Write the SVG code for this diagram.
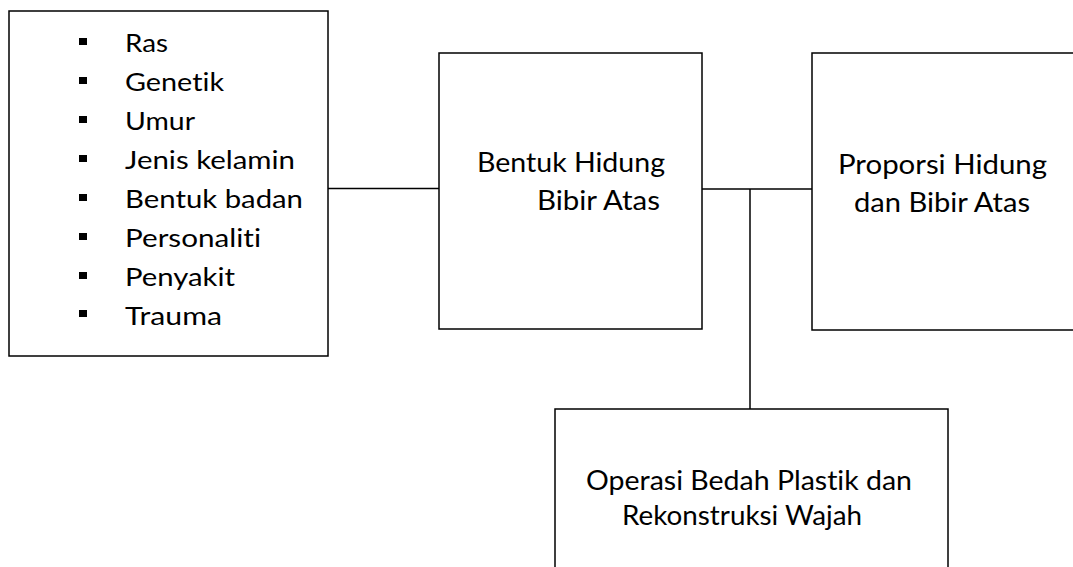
<svg xmlns="http://www.w3.org/2000/svg" width="1073" height="567" viewBox="0 0 1073 567">
<style>
.box{fill:#fff;stroke:#000;stroke-width:1.5}
.ln{stroke:#000;stroke-width:1.5;fill:none}
.t{font-family:Lato,"Liberation Sans",sans-serif;font-size:27px;fill:#000;font-variant-ligatures:none;font-feature-settings:"liga" 0}
.s{font-size:25.5px}
.b{fill:#000}
</style>
<rect width="1073" height="567" fill="#fff"/>
<g id="connectors">
<line class="ln" x1="328" y1="188.5" x2="439" y2="188.5"/>
<line class="ln" x1="702" y1="189" x2="812" y2="189"/>
<line class="ln" x1="750" y1="189" x2="750" y2="409"/>
</g>
<g id="factors">
<rect class="box" x="9" y="11" width="319" height="345"/>
<rect class="b" x="79" y="38" width="8" height="7"/>
<rect class="b" x="79" y="77" width="8" height="7"/>
<rect class="b" x="79" y="116" width="8" height="7"/>
<rect class="b" x="79" y="155" width="8" height="7"/>
<rect class="b" x="79" y="194" width="8" height="7"/>
<rect class="b" x="79" y="233" width="8" height="7"/>
<rect class="b" x="79" y="272" width="8" height="7"/>
<rect class="b" x="79" y="310" width="8" height="7"/>
<text class="t s" x="125" y="52" textLength="43" lengthAdjust="spacingAndGlyphs">Ras</text>
<text class="t s" x="125" y="91" textLength="99" lengthAdjust="spacingAndGlyphs">Genetik</text>
<text class="t s" x="125" y="130" textLength="70" lengthAdjust="spacingAndGlyphs">Umur</text>
<text class="t s" x="125" y="169" textLength="170" lengthAdjust="spacingAndGlyphs">Jenis kelamin</text>
<text class="t s" x="125" y="208" textLength="178" lengthAdjust="spacingAndGlyphs">Bentuk badan</text>
<text class="t s" x="125" y="247" textLength="136" lengthAdjust="spacingAndGlyphs">Personaliti</text>
<text class="t s" x="125" y="286" textLength="110" lengthAdjust="spacingAndGlyphs">Penyakit</text>
<text class="t s" x="125" y="325" textLength="97" lengthAdjust="spacingAndGlyphs">Trauma</text>
</g>
<g id="bentuk">
<rect class="box" x="439" y="53" width="263" height="276"/>
<text class="t" x="477" y="172" textLength="188" lengthAdjust="spacingAndGlyphs">Bentuk Hidung</text>
<text class="t" x="537" y="210" textLength="123" lengthAdjust="spacingAndGlyphs">Bibir Atas</text>
</g>
<g id="proporsi">
<rect class="box" x="812" y="53" width="270" height="277"/>
<text class="t" x="838" y="174" textLength="209" lengthAdjust="spacingAndGlyphs">Proporsi Hidung</text>
<text class="t" x="854" y="212" textLength="176" lengthAdjust="spacingAndGlyphs">dan Bibir Atas</text>
</g>
<g id="operasi">
<rect class="box" x="555" y="409" width="393" height="170"/>
<text class="t" x="586" y="490" textLength="326" lengthAdjust="spacingAndGlyphs">Operasi Bedah Plastik dan</text>
<text class="t" x="622" y="525" textLength="240" lengthAdjust="spacingAndGlyphs">Rekonstruksi Wajah</text>
</g>
</svg>
